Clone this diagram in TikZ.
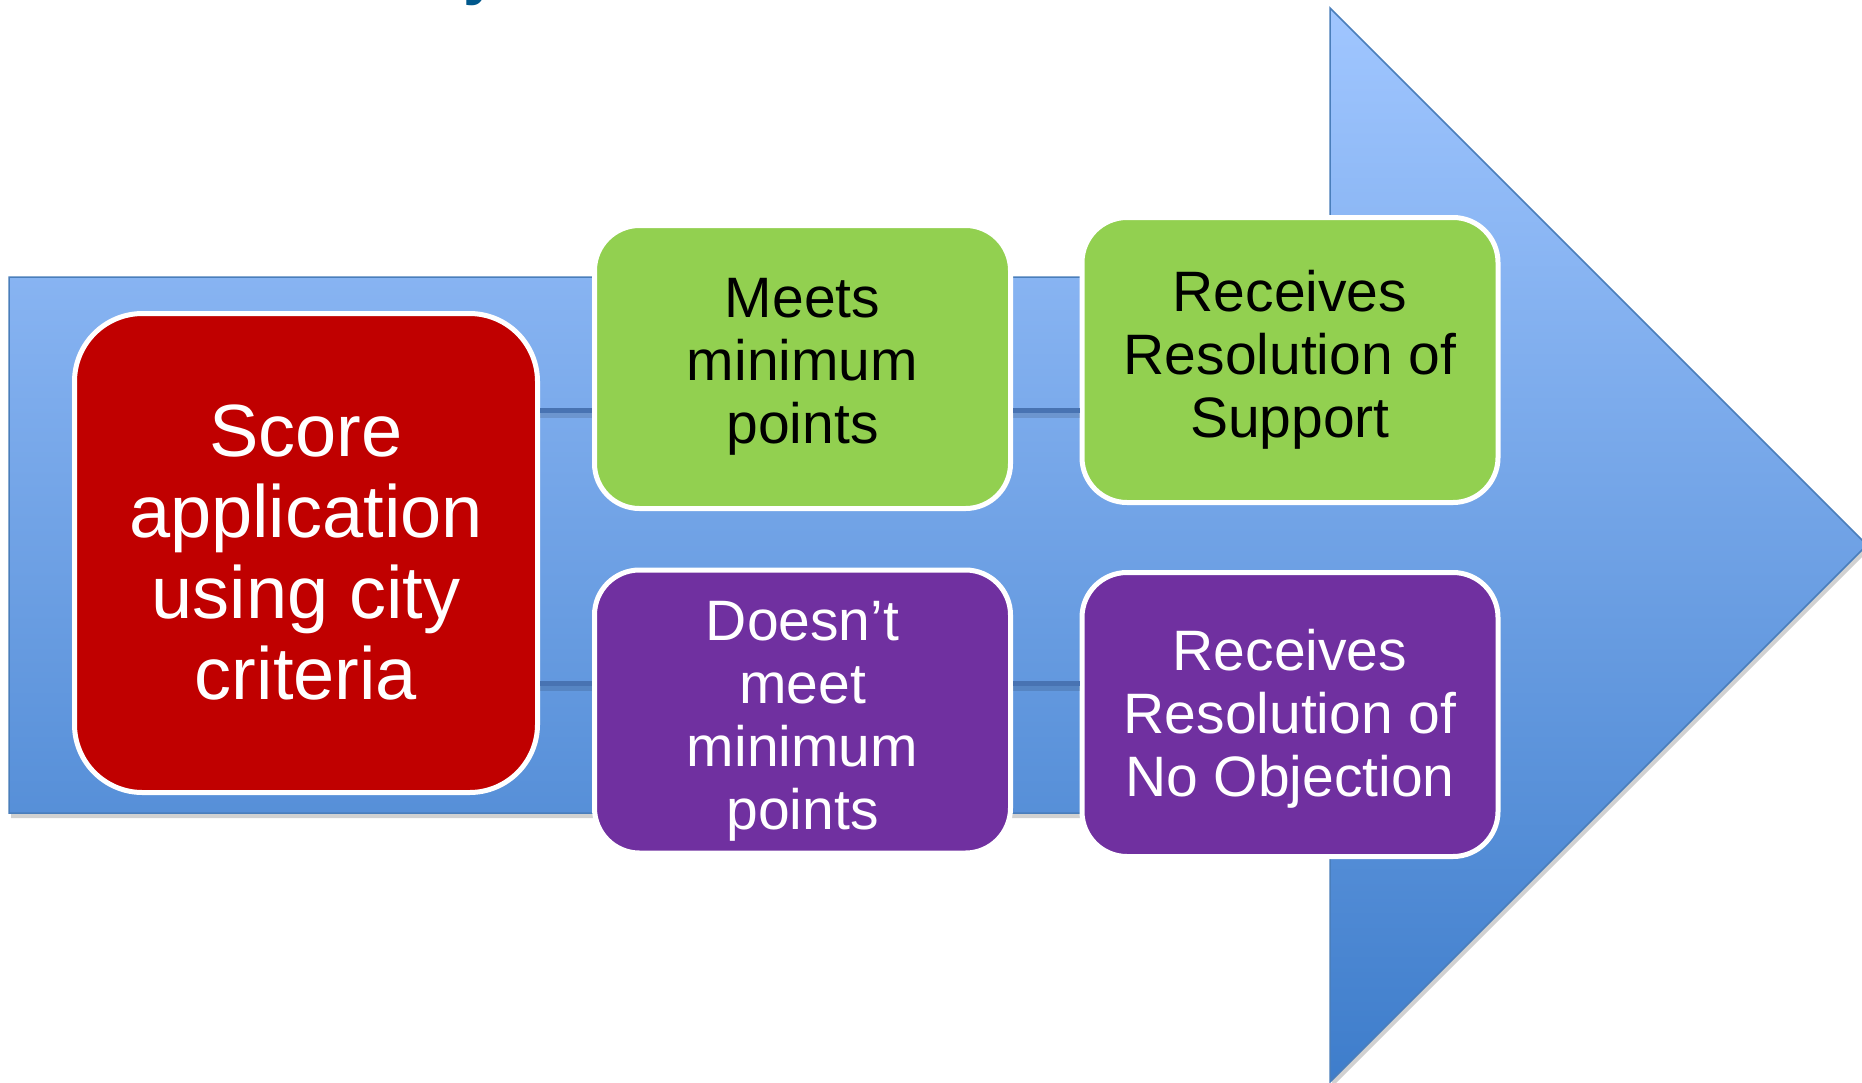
\documentclass[tikz,border=0pt]{standalone}
\usepackage{fontspec}
\setmainfont{Liberation Sans}
\definecolor{boxred}{HTML}{C00000}
\definecolor{boxgreen}{HTML}{92D050}
\definecolor{boxpurple}{HTML}{7030A0}
\definecolor{arrowtop}{RGB}{160,198,255}
\definecolor{arrowbot}{RGB}{62,125,203}
\definecolor{arrowline}{RGB}{74,126,187}
\definecolor{linkblue}{RGB}{72,115,178}
\definecolor{titleblue}{RGB}{0,88,140}
\begin{document}
\begin{tikzpicture}[x=1pt,y=-1pt,
  box/.style={rounded corners=45pt, draw=white, line width=5pt, inner sep=0pt, align=center,
              minimum width=416pt, minimum height=283pt,
              font=\fontsize{57}{63}\selectfont},
  greenbox/.style={box, fill=boxgreen, text=black},
  purplebox/.style={box, fill=boxpurple, text=white},
  redbox/.style={box, rounded corners=68pt, fill=boxred, text=white,
              minimum width=463pt, minimum height=479pt,
              font=\fontsize{74}{81}\selectfont},
  link/.style={line width=5pt, draw=linkblue},
  linkshade/.style={line width=5pt, draw=black, opacity=0.12},
  titletext/.style={inner sep=0pt, text=titleblue, font=\bfseries\fontsize{64}{70}\selectfont}
]
\useasboundingbox (0,0) rectangle (1862,1082);
\fill[white] (0,0) rectangle (1862,1082);

% title fragment
\node[titletext, anchor=base west] (title) at (463,-8) {y};

% arrow shadow
\fill[black, opacity=0.18] (11,282) -- (1332,282) -- (1332,13) -- (1869,550) -- (1332,1087) -- (1332,818) -- (11,818) -- cycle;
% big arrow
\path[top color=arrowtop, bottom color=arrowbot, draw=arrowline, line width=1.5pt]
  (9,277) -- (1330,277) -- (1330,8) -- (1867,545) -- (1330,1082) -- (1330,813) -- (9,813) -- cycle;

% boxes
\node[redbox] (red) at (306,553) {Score\\application\\using city\\criteria};
\node[greenbox] (g1) at (802.5,367) {Meets\\minimum\\points};
\node[greenbox, minimum height=285pt] (g2) at (1290,360) {Receives\\Resolution of\\Support};
\node[purplebox] (p1) at (802.5,711.5) {\rule{0pt}{58pt}Doesn’t\\meet\\minimum\\points};
\node[purplebox, minimum height=284pt] (p2) at (1290,714.5) {\rule{0pt}{50pt}Receives\\Resolution of\\No Objection};

% connectors
\coordinate (toprow) at (0,410);
\coordinate (botrow) at (0,683);
\coordinate (toprowS) at (0,415);
\coordinate (botrowS) at (0,688);
\draw[linkshade] (red.east |- toprowS) -- (g1.west |- toprowS);
\draw[linkshade] (g1.east |- toprowS) -- (g2.west |- toprowS);
\draw[linkshade] (red.east |- botrowS) -- (p1.west |- botrowS);
\draw[linkshade] (p1.east |- botrowS) -- (p2.west |- botrowS);
\draw[link] (red.east |- toprow) -- (g1.west |- toprow);
\draw[link] (g1.east |- toprow) -- (g2.west |- toprow);
\draw[link] (red.east |- botrow) -- (p1.west |- botrow);
\draw[link] (p1.east |- botrow) -- (p2.west |- botrow);
\end{tikzpicture}
\end{document}
